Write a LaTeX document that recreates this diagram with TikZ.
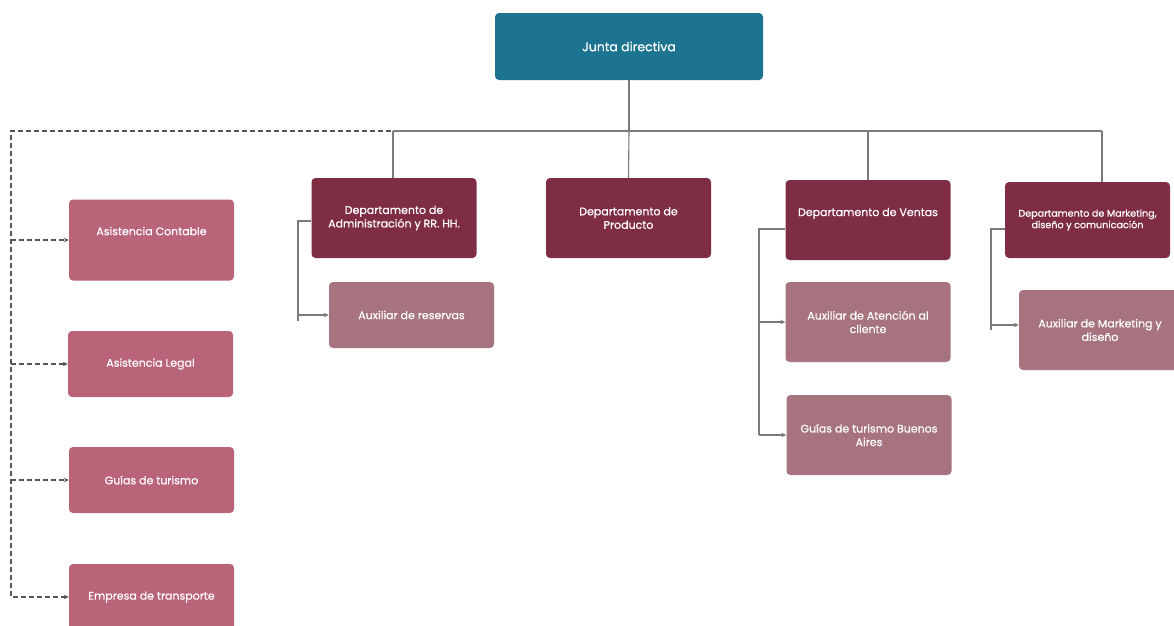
\documentclass[tikz,border=0pt]{standalone}
\usepackage{fontspec}
\setmainfont{Poppins}[FakeBold=0.6]
\usetikzlibrary{arrows.meta}
\definecolor{teal}{HTML}{1C7490}
\definecolor{wine}{HTML}{7F2D45}
\definecolor{rose}{HTML}{BA6479}
\definecolor{mauve}{HTML}{A6737F}
\definecolor{lgray}{HTML}{7A7A7A}
\definecolor{dgray}{HTML}{555555}
\begin{document}
\begin{tikzpicture}[x=1pt,y=-1pt,
  base/.style={rounded corners=4pt, inner sep=2pt, align=center, text=white,
    font=\fontsize{11}{13.5}\selectfont},
  jbox/.style={base, fill=teal, minimum width=268pt, minimum height=67pt, font=\fontsize{12.5}{15}\selectfont},
  dept/.style={base, fill=wine, minimum width=165pt, minimum height=80pt},
  sub/.style={base, fill=mauve, minimum width=165pt, minimum height=80pt},
  ext/.style={base, fill=rose, minimum width=165pt, minimum height=66pt},
  conn/.style={draw=lgray, line width=1.1pt},
  arr/.style={conn, -{Stealth[length=5pt,width=4.5pt]}},
  dsh/.style={draw=dgray, line width=1.1pt, dash pattern=on 5pt off 3pt},
  dsharr/.style={dsh, -{Stealth[length=5pt,width=4.5pt]}}
]
\useasboundingbox (0,0) rectangle (1174,625);
% top
\node[jbox] (junta) at (629,46.5) {Junta directiva};
% departments
\node[dept] (adm) at (394,218) {Departamento de\\Administración y RR. HH.};
\node[dept] (prod) at (628.5,218) {Departamento de\\Producto};
\node[dept, text depth=16pt] (vent) at (868,220) {Departamento de Ventas};
\node[dept, minimum height=76pt, font=\fontsize{9.6}{11.5}\selectfont] (mkt) at (1087.5,220) {Departamento de Marketing,\\diseño y comunicación};
% subordinates
\node[sub, minimum height=66pt] (res) at (411.5,315) {Auxiliar de reservas};
\node[sub] (aten) at (868,322) {Auxiliar de Atención al\\cliente};
\node[sub] (gba) at (869,435) {Guías de turismo Buenos\\Aires};
\node[sub, minimum width=162pt] (amk) at (1100,330) {Auxiliar de Marketing y\\diseño};
% external
\node[ext, minimum height=81pt, text depth=18pt] (acont) at (151.5,240) {Asistencia Contable};
\node[ext] (alegal) at (150.5,364) {Asistencia Legal};
\node[ext] (gtur) at (151.5,480) {Guías de turismo};
\node[ext] (etrans) at (151.5,597) {Empresa de transporte};
% bus
\coordinate (bus) at (629,131);
\coordinate (busL) at (393,131);
\coordinate (busR) at (1102,131);
\coordinate (dstart) at (391,131);
\coordinate (spine) at (11,0);
\draw[conn] (junta.south) -- (bus);
\draw[conn] (busL) -- (busR);
\draw[conn] (busL) -- (busL |- adm.north);
\draw[conn] (bus) -- (prod.north);
\draw[conn] (vent.north |- bus) -- (vent.north);
\draw[conn] (busR) -- (busR |- mkt.north);
% admin branch
\coordinate (ja) at (298,0);
\draw[conn] ([yshift=-3pt]adm.west) -- ([yshift=-3pt]adm.west -| ja) -- ([yshift=-6pt]res.west -| ja);
\draw[arr] (res.west -| ja) -- (res.west);
% ventas branch
\coordinate (jv) at (759,0);
\draw[conn] ([yshift=-9pt]vent.west) -- ([yshift=-9pt]vent.west -| jv) -- (gba.west -| jv);
\draw[arr] (aten.west -| jv) -- (aten.west);
\draw[arr] (gba.west -| jv) -- (gba.west);
% marketing branch
\coordinate (jm) at (991,0);
\draw[conn] ([yshift=-9pt]mkt.west) -- ([yshift=-9pt]mkt.west -| jm) -- (amk.west -| jm);
\draw[arr] ([yshift=5pt]amk.west -| jm) -- ([yshift=5pt]amk.west);
% dashed external
\draw[dsharr] (dstart) -| (spine |- etrans.west) -- (etrans.west);
\draw[dsharr] (spine |- acont.west) -- (acont.west);
\draw[dsharr] (spine |- alegal.west) -- (alegal.west);
\draw[dsharr] (spine |- gtur.west) -- (gtur.west);
\end{tikzpicture}
\end{document}
